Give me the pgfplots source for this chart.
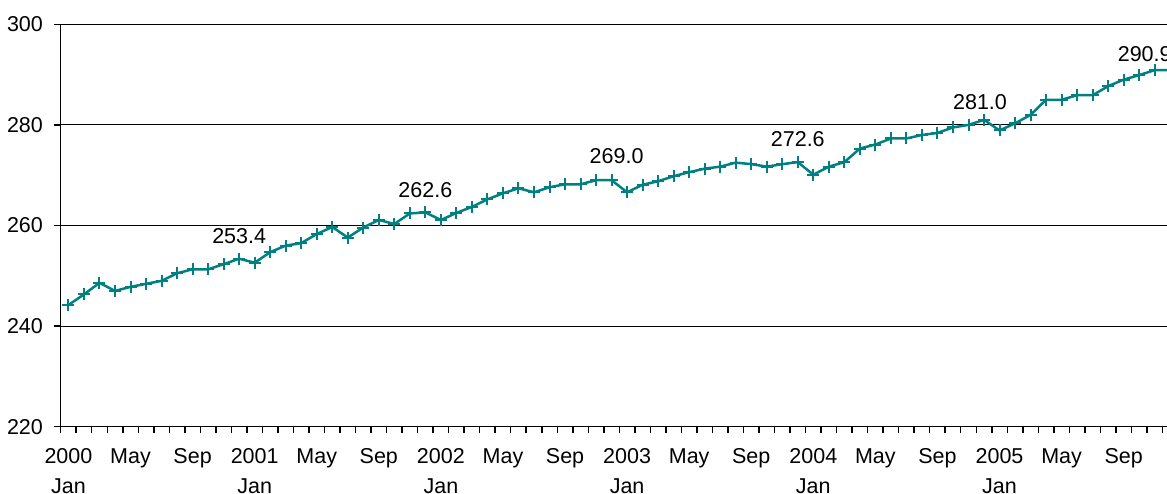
\documentclass[border=0pt]{standalone}
\usepackage{fontspec}
\setmainfont{Liberation Sans}
\usepackage{pgfplots}
\usepackage{pgfplotstable}
\pgfplotsset{compat=1.18}
\definecolor{lineteal}{RGB}{0,128,128}
\newcommand{\lblfont}{\fontsize{10.75}{15}\selectfont}
\pgfplotstableread{
x y lbl dx dy
11 253.4 253.4 0 7.25
23 262.6 262.6 0 7.25
35 269.0 269.0 2.5 8.25
47 272.6 272.6 0 7.5
59 281.0 281.0 -2 5.0
70 290.9 290.9 -5 3.75
}\labeltable
\begin{document}
\begin{tikzpicture}
\begin{axis}[
  at={(0,0)}, anchor=south west,
  scale only axis,
  width=558.65pt, height=201.2pt,
  xmin=-0.5, xmax=71.5,
  ymin=220, ymax=300,
  axis lines=left,
  axis line style={-, line width=0.75pt, black},
  tick align=outside,
  ytick={220,240,...,300},
  ymajorgrids,
  major grid style={black, line width=0.5pt},
  xtick={0,4,...,68},
  xticklabels={{2000\\Jan},May,Sep,{2001\\Jan},May,Sep,{2002\\Jan},May,Sep,{2003\\Jan},May,Sep,{2004\\Jan},May,Sep,{2005\\Jan},May,Sep},
  minor xtick={-0.5,0.5,...,71.5},
  major x tick style={draw=none},
  minor x tick style={black, line width=0.75pt},
  major y tick style={black, line width=0.75pt},
  major tick length=3.2pt,
  minor tick length=3pt,
  /pgf/number format/assume math mode=true,
  yticklabel style={font=\lblfont, anchor=east, inner sep=0pt, xshift=-5.5pt},
  xticklabel style={font=\lblfont, align=center, anchor=north, inner sep=0pt, yshift=-7.5pt},
]
\addplot[color=lineteal, line width=1.25pt, mark=+, mark size=3pt, mark options={line width=1pt}] coordinates {
(0,244.2) (1,246.3) (2,248.6) (3,247.0) (4,247.8) (5,248.4) (6,249.0) (7,250.5)
(8,251.3) (9,251.3) (10,252.3) (11,253.4) (12,252.6) (13,254.7) (14,256.0) (15,256.5)
(16,258.3) (17,259.7) (18,257.6) (19,259.6) (20,261.1) (21,260.3) (22,262.4) (23,262.6)
(24,261.1) (25,262.5) (26,263.7) (27,265.2) (28,266.4) (29,267.4) (30,266.6) (31,267.6)
(32,268.2) (33,268.2) (34,269.0) (35,269.0) (36,266.6) (37,268.1) (38,268.8) (39,269.8)
(40,270.6) (41,271.3) (42,271.7) (43,272.5) (44,272.2) (45,271.7) (46,272.2) (47,272.6)
(48,270.1) (49,271.7) (50,272.6) (51,275.3) (52,276.1) (53,277.3) (54,277.3) (55,278.0)
(56,278.4) (57,279.5) (58,280.0) (59,281.0) (60,278.9) (61,280.3) (62,282.0) (63,285.0)
(64,285.0) (65,285.9) (66,285.9) (67,287.7) (68,289.0) (69,289.9) (70,290.9) (71,290.9)
};
\addplot[draw=none, mark=none, nodes near coords, point meta=explicit symbolic,
  visualization depends on={\thisrow{dx} \as \ddx},
  visualization depends on={\thisrow{dy} \as \ddy},
  nodes near coords style={anchor=south, inner sep=0pt, xshift=\ddx pt, yshift=\ddy pt, font=\lblfont, text=black}]
  table[x=x, y=y, meta=lbl] {\labeltable};
\end{axis}
\pgfresetboundingbox
\path[use as bounding box] (-30.35pt,-33.15pt) rectangle (553.15pt,213.35pt);
\end{tikzpicture}
\end{document}
